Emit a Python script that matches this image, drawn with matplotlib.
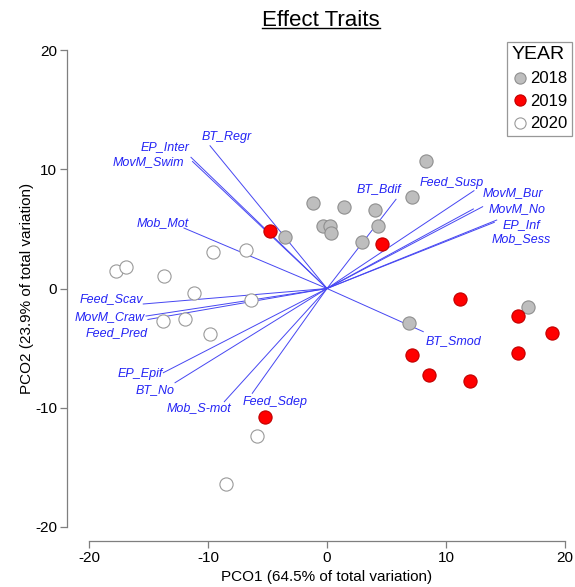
import matplotlib
matplotlib.use("Agg")
import matplotlib.pyplot as plt
from matplotlib.lines import Line2D

plt.rcParams['font.family'] = ['Liberation Sans', 'DejaVu Sans']
plt.rcParams['axes.unicode_minus'] = False

# PCO scores per year
x_2018 = [8.32, -1.18, 1.43, 4.03, 7.14, -0.34, 0.25, 0.34, 4.29, 2.94, 6.89, 16.89, -3.53]
y_2018 = [10.69, 7.17, 6.83, 6.58, 7.67, 5.24, 5.24, 4.65, 5.24, 3.90, -2.89, -1.55, 4.32]
x_2019 = [4.60, 11.18, 16.08, 18.88, 16.08, 7.12, 8.60, 12.04, -4.79, -5.21]
y_2019 = [3.73, -0.88, -2.31, -3.73, -5.41, -5.58, -7.25, -7.73, 4.85, -10.78]
x_2020 = [-17.73, -16.89, -13.67, -9.55, -6.81, -11.18, -6.39, -13.81, -11.93, -9.83, -5.91, -8.46]
y_2020 = [1.47, 1.83, 1.07, 3.06, 3.26, -0.38, -0.99, -2.70, -2.59, -3.79, -12.39, -16.37]

# trait vectors (end points)
traits = ['BT_Regr', 'EP_Inter', 'MovM_Swim', 'Mob_Mot', 'Feed_Scav', 'MovM_Craw',
          'Feed_Pred', 'EP_Epif', 'BT_No', 'Mob_S-mot', 'Feed_Sdep', 'BT_Bdif',
          'Feed_Susp', 'MovM_Bur', 'MovM_No', 'EP_Inf', 'Mob_Sess', 'BT_Smod']
vec_x = [-9.83, -11.43, -11.30, -12.02, -15.44, -15.21, -15.05, -13.75, -12.77, -8.63,
         -6.28, 5.80, 12.35, 12.30, 13.08, 14.26, 14.06, 8.09]
vec_y = [11.97, 11.00, 10.65, 5.07, -1.30, -2.31, -2.60, -7.06, -7.90, -9.49,
         -8.79, 7.48, 8.20, 6.67, 6.86, 5.74, 5.55, -3.62]

# where each trait label sits (data units) and its alignment
label_pos = {
    'BT_Regr': (-8.43, 12.68, 'center'),
    'EP_Inter': (-11.57, 11.84, 'right'),
    'MovM_Swim': (-11.99, 10.58, 'right'),
    'Mob_Mot': (-11.57, 5.52, 'right'),
    'Feed_Scav': (-15.44, -0.91, 'right'),
    'MovM_Craw': (-15.29, -2.36, 'right'),
    'Feed_Pred': (-15.10, -3.76, 'right'),
    'EP_Epif': (-13.81, -7.17, 'right'),
    'BT_No': (-12.77, -8.51, 'right'),
    'Mob_S-mot': (-8.01, -10.05, 'right'),
    'Feed_Sdep': (-7.12, -9.49, 'left'),
    'BT_Bdif': (4.39, 8.32, 'center'),
    'Feed_Susp': (10.48, 8.82, 'center'),
    'MovM_Bur': (15.66, 8.03, 'center'),
    'MovM_No': (15.99, 6.64, 'center'),
    'EP_Inf': (16.36, 5.32, 'center'),
    'Mob_Sess': (16.30, 4.13, 'center'),
    'BT_Smod': (10.67, -4.38, 'center'),
}

ticks = [-20, -10, 0, 10, 20]

fig = plt.figure(figsize=(5.75, 5.87), dpi=100)
ax = fig.add_axes([89 / 575, 60 / 587, 476 / 575, 477 / 587])

vec_color = '#4646f2'
for vx, vy in zip(vec_x, vec_y):
    ax.plot([0, vx], [0, vy], color=vec_color, lw=0.7, zorder=2)

ms = 9.5
ax.plot(x_2018, y_2018, 'o', ms=ms, mfc='#bebebe', mec='#8f8f8f', mew=0.8, zorder=3, label='2018')
ax.plot(x_2019, y_2019, 'o', ms=ms, mfc='#ff0000', mec='#c00000', mew=0.8, zorder=3, label='2019')
ax.plot(x_2020, y_2020, 'o', ms=ms, mfc='white', mec='#9a9a9a', mew=0.8, zorder=3, label='2020')

for name in traits:
    lx, ly, ha = label_pos[name]
    ax.text(lx, ly, name, color='#2424f5', fontsize=9, style='italic',
            ha=ha, va='center', zorder=4)

ax.set_xlim(-20, 20)
ax.set_ylim(-20, 20)
ax.set_xticks(ticks)
ax.set_yticks(ticks)
for s in ['top', 'right']:
    ax.spines[s].set_visible(False)
ax.spines['left'].set_position(('outward', 16))
ax.spines['bottom'].set_position(('outward', 10))
for s in ['left', 'bottom']:
    ax.spines[s].set_color('#7f7f7f')
    ax.spines[s].set_linewidth(0.9)
ax.tick_params(length=5, width=0.9, color='#7f7f7f', labelsize=11, pad=2)

ax.set_xlabel('PCO1 (64.5% of total variation)', fontsize=11, labelpad=4)
ax.set_ylabel('PCO2 (23.9% of total variation)', fontsize=11, labelpad=1)

title = fig.text(321 / 575, 1 - 20 / 587, 'Effect Traits', fontsize=16,
                 ha='center', va='center')

leg = ax.legend(title='YEAR', loc='upper right', bbox_to_anchor=(572 / 575, 1 - 42 / 587),
                bbox_transform=fig.transFigure, fontsize=12, title_fontsize=14,
                frameon=True, fancybox=False, handletextpad=0.15, borderpad=0.25,
                labelspacing=0.45, handlelength=1.0, borderaxespad=0,
                markerscale=0.85)
leg.get_frame().set_edgecolor('#7f7f7f')
leg.get_frame().set_linewidth(0.9)
leg._legend_box.align = 'left'
leg._legend_box.sep = 6

# underline the title
fig.canvas.draw()
bb = title.get_window_extent().transformed(fig.transFigure.inverted())
fig.add_artist(Line2D([bb.x0, bb.x1], [bb.y0 + 0.004, bb.y0 + 0.004],
                      transform=fig.transFigure, color='black', lw=1.0))

plt.savefig('out.png', dpi=100)
